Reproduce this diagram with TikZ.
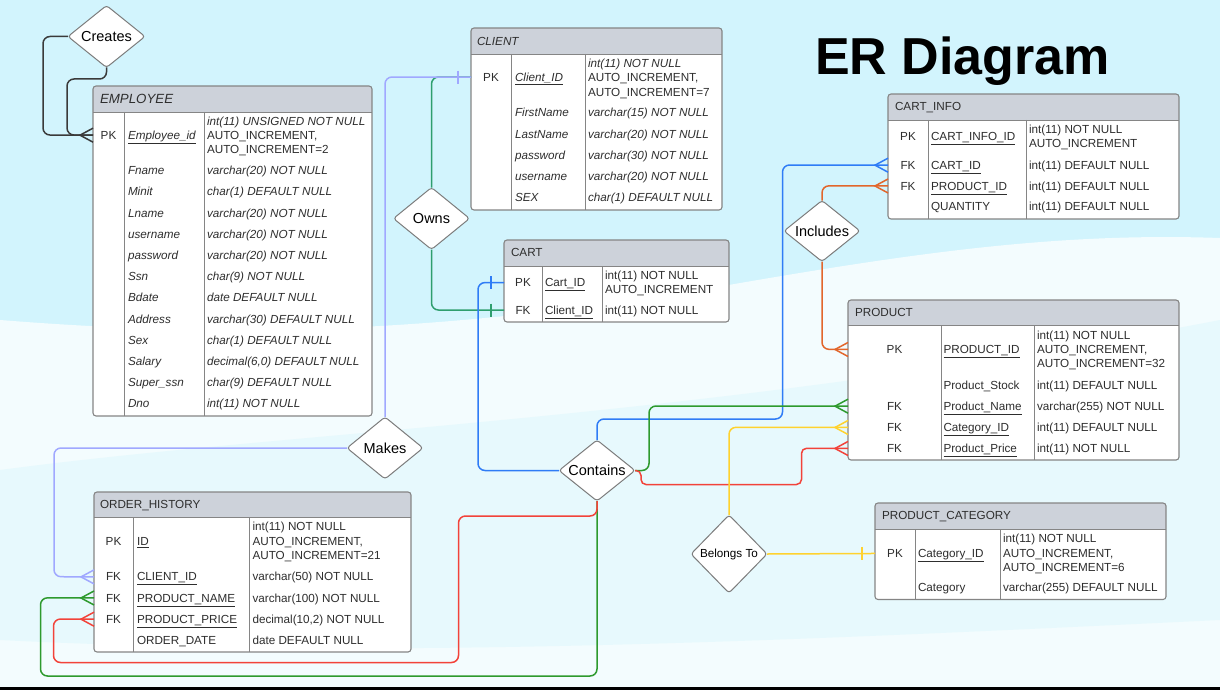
\documentclass[tikz,border=0pt]{standalone}
\usepackage{fontspec}
\setmainfont{Liberation Sans}
\usetikzlibrary{shapes.geometric,fit}
\definecolor{bgcyan}{HTML}{D2F4FD}
\definecolor{hdrfill}{HTML}{CDD2DA}
\definecolor{bordercol}{HTML}{858585}
\definecolor{relborder}{HTML}{7C7C7C}
\definecolor{txtcol}{HTML}{2E2E2E}
\definecolor{crcol}{HTML}{3A3A3A}
\definecolor{owcol}{HTML}{2E9E6E}
\definecolor{bluecol}{HTML}{2F7CF6}
\definecolor{greencol}{HTML}{2E9A2E}
\definecolor{redcol}{HTML}{F2433A}
\definecolor{lavcol}{HTML}{A0A8FF}
\definecolor{orcol}{HTML}{E2662C}
\definecolor{yelcol}{HTML}{FFD22E}
\newcommand\fs{\fontsize{11.7}{14}\selectfont}
\newcommand\ertable[8]{%
  \begin{scope}
    \clip[rounded corners=3pt] (#2,#3) rectangle (#4,#6);
    \fill[white] (#2,#3) rectangle (#4,#6);
    \fill[hdrfill] (#2,#3) rectangle (#4,#5);
  \end{scope}
  \draw[tline] (#2,#5) -- (#4,#5) (#7,#5) -- (#7,#6) (#8,#5) -- (#8,#6);
  \node[tframe, fit={(#2,#3) (#4,#6)}] (#1) {};
}
\newcommand\tx[5][]{\node[txt,#1] (#2) at (#3,#4) {#5};}
\newcommand\kx[4]{\node[keytxt] (#1) at (#2,#3) {#4};}
\newcommand\crow[2]{\draw[#2, line width=1.5pt] (#1) ++(0,-7) -- ++(-13,7) -- ++(13,7);}
\newcommand\onetick[2]{\draw[#2, line width=1.5pt] (#1) ++(-13,-6.5) -- ++(0,13);}
\begin{document}
\begin{tikzpicture}[x=1pt,y=-1pt,
  txt/.style={anchor=base west, yshift=-4.2pt, inner sep=0pt, outer sep=0pt, text=txtcol, font=\fs},
  it/.style={font=\fs\itshape},
  keytxt/.style={anchor=base, yshift=-4.2pt, inner sep=0pt, outer sep=0pt, text=txtcol, font=\fs},
  tline/.style={draw=bordercol, line width=0.9pt},
  tframe/.style={draw=bordercol, line width=1.1pt, rounded corners=3pt, inner sep=0pt, outer sep=0pt},
  rel/.style={diamond, shape aspect=1.25, draw=relborder, fill=white, line width=1pt, rounded corners=3pt, inner sep=0pt, outer sep=0pt, text=black, font=\fontsize{14.5}{16}\selectfont},
  conn/.style={line width=1.5pt, rounded corners=7pt}
]
\useasboundingbox (0,0) rectangle (1220,690);
% background
\fill[bgcyan] (0,0) rectangle (1220,690);
\fill[white, opacity=0.75] (0,320) .. controls (250,340) and (450,330) .. (700,290) .. controls (900,255) and (1050,232) .. (1220,238) -- (1220,690) -- (0,690) -- cycle;
\fill[bgcyan, opacity=0.35] (0,470) .. controls (300,430) and (700,420) .. (1220,320) -- (1220,620) .. controls (800,640) and (400,660) .. (0,640) -- cycle;
\fill[black] (0,687) rectangle (1220,690);
% title
\node[anchor=base west, inner sep=0pt, font=\fontsize{52}{56}\selectfont\bfseries, text=black] (title) at (815,75) {ER Diagram};

% EMPLOYEE
\ertable{emp}{93}{86}{372}{112}{416}{124}{204}
\tx[font=\fontsize{13.3}{15}\selectfont\itshape]{emp-h}{100}{99}{EMPLOYEE}
\kx{emp-pk}{108.5}{135}{PK}
\tx[it]{emp-pkn}{128}{135}{\underline{Employee\_id}}
\tx[it]{emp-t0a}{207}{121}{int(11) UNSIGNED NOT NULL}
\tx{emp-t0b}{207}{135}{AUTO\_INCREMENT,}
\tx{emp-t0c}{207}{149}{AUTO\_INCREMENT=2}
\tx[it]{emp-n1}{128}{170.5}{Fname}      \tx[it]{emp-t1}{207}{170.5}{varchar(20) NOT NULL}
\tx[it]{emp-n2}{128}{191.7}{Minit}      \tx[it]{emp-t2}{207}{191.7}{char(1) DEFAULT NULL}
\tx[it]{emp-n3}{128}{212.9}{Lname}      \tx[it]{emp-t3}{207}{212.9}{varchar(20) NOT NULL}
\tx[it]{emp-n4}{128}{234}{username}     \tx[it]{emp-t4}{207}{234}{varchar(20) NOT NULL}
\tx[it]{emp-n5}{128}{255.2}{password}   \tx[it]{emp-t5}{207}{255.2}{varchar(20) NOT NULL}
\tx[it]{emp-n6}{128}{276.4}{Ssn}        \tx[it]{emp-t6}{207}{276.4}{char(9) NOT NULL}
\tx[it]{emp-n7}{128}{297.6}{Bdate}      \tx[it]{emp-t7}{207}{297.6}{date DEFAULT NULL}
\tx[it]{emp-n8}{128}{318.8}{Address}    \tx[it]{emp-t8}{207}{318.8}{varchar(30) DEFAULT NULL}
\tx[it]{emp-n9}{128}{340}{Sex}          \tx[it]{emp-t9}{207}{340}{char(1) DEFAULT NULL}
\tx[it]{emp-n10}{128}{361.2}{Salary}    \tx[it]{emp-t10}{207}{361.2}{decimal(6,0) DEFAULT NULL}
\tx[it]{emp-n11}{128}{382.4}{Super\_ssn}\tx[it]{emp-t11}{207}{382.4}{char(9) DEFAULT NULL}
\tx[it]{emp-n12}{128}{403.6}{Dno}       \tx[it]{emp-t12}{207}{403.6}{int(11) NOT NULL}

% CLIENT
\ertable{cli}{471}{28}{722}{54}{210}{511}{585}
\tx[it]{cli-h}{477}{41}{CLIENT}
\kx{cli-pk}{491}{77}{PK}
\tx[it]{cli-pkn}{515}{77}{\underline{Client\_ID}}
\tx[it]{cli-t0a}{588}{63}{int(11) NOT NULL}
\tx{cli-t0b}{588}{77.5}{AUTO\_INCREMENT,}
\tx{cli-t0c}{588}{92}{AUTO\_INCREMENT=7}
\tx[it]{cli-n1}{515}{112.7}{FirstName} \tx[it]{cli-t1}{588}{112.7}{varchar(15) NOT NULL}
\tx[it]{cli-n2}{515}{134}{LastName}    \tx[it]{cli-t2}{588}{134}{varchar(20) NOT NULL}
\tx[it]{cli-n3}{515}{155.3}{password}  \tx[it]{cli-t3}{588}{155.3}{varchar(30) NOT NULL}
\tx[it]{cli-n4}{515}{176.6}{username}  \tx[it]{cli-t4}{588}{176.6}{varchar(20) NOT NULL}
\tx[it]{cli-n5}{515}{197.5}{SEX}       \tx[it]{cli-t5}{588}{197.5}{char(1) DEFAULT NULL}

% CART
\ertable{cart}{504}{240}{729}{266}{322}{542}{602}
\tx{cart-h}{511}{252.5}{CART}
\kx{cart-pk}{523}{282.5}{PK}
\tx{cart-pkn}{545}{282.5}{\underline{Cart\_ID}}
\tx{cart-t0a}{605}{275}{int(11) NOT NULL}
\tx{cart-t0b}{605}{289}{AUTO\_INCREMENT}
\kx{cart-fk}{523}{310}{FK}
\tx{cart-n1}{545}{310}{\underline{Client\_ID}}
\tx{cart-t1}{605}{310}{int(11) NOT NULL}

% CART_INFO
\ertable{ci}{888}{94}{1179}{120}{219}{928}{1026}
\tx{ci-h}{895}{106.5}{CART\_INFO}
\kx{ci-pk}{908}{136.7}{PK}
\tx{ci-pkn}{931}{136.7}{\underline{CART\_INFO\_ID}}
\tx{ci-t0a}{1029}{129.3}{int(11) NOT NULL}
\tx{ci-t0b}{1029}{143.7}{AUTO\_INCREMENT}
\kx{ci-fk1}{908}{165}{FK}
\tx{ci-n1}{931}{165}{\underline{CART\_ID}}     \tx{ci-t1}{1029}{165}{int(11) DEFAULT NULL}
\kx{ci-fk2}{908}{185.8}{FK}
\tx{ci-n2}{931}{185.8}{\underline{PRODUCT\_ID}}  \tx{ci-t2}{1029}{185.8}{int(11) DEFAULT NULL}
\tx{ci-n3}{931}{206.7}{QUANTITY}                \tx{ci-t3}{1029}{206.7}{int(11) DEFAULT NULL}

% PRODUCT
\ertable{prod}{848}{300}{1179}{325}{460}{941}{1034}
\tx{prod-h}{855}{312}{PRODUCT}
\kx{prod-pk}{894.5}{349.3}{PK}
\tx{prod-pkn}{943.5}{349.3}{\underline{PRODUCT\_ID}}
\tx{prod-t0a}{1037}{335}{int(11) NOT NULL}
\tx{prod-t0b}{1037}{349.3}{AUTO\_INCREMENT,}
\tx{prod-t0c}{1037}{363.5}{AUTO\_INCREMENT=32}
\tx{prod-n1}{943.5}{385}{Product\_Stock}  \tx{prod-t1}{1037}{385}{int(11) DEFAULT NULL}
\kx{prod-fk1}{894.5}{406}{FK}
\tx{prod-n2}{943.5}{406}{\underline{Product\_Name}}  \tx{prod-t2}{1037}{406}{varchar(255) NOT NULL}
\kx{prod-fk2}{894.5}{427.3}{FK}
\tx{prod-n3}{943.5}{427.3}{\underline{Category\_ID}}  \tx{prod-t3}{1037}{427.3}{int(11) DEFAULT NULL}
\kx{prod-fk3}{894.5}{448.3}{FK}
\tx{prod-n4}{943.5}{448.3}{\underline{Product\_Price}} \tx{prod-t4}{1037}{448.3}{int(11) NOT NULL}

% PRODUCT_CATEGORY
\ertable{pc}{875}{503}{1166}{529}{599.5}{915}{1000}
\tx{pc-h}{882}{515.5}{PRODUCT\_CATEGORY}
\kx{pc-pk}{895}{553.3}{PK}
\tx{pc-pkn}{918}{553.3}{\underline{Category\_ID}}
\tx{pc-t0a}{1003}{538.3}{int(11) NOT NULL}
\tx{pc-t0b}{1003}{553.3}{AUTO\_INCREMENT,}
\tx{pc-t0c}{1003}{567.7}{AUTO\_INCREMENT=6}
\tx{pc-n1}{918}{587.7}{Category} \tx{pc-t1}{1003}{587.7}{varchar(255) DEFAULT NULL}

% ORDER_HISTORY
\ertable{oh}{94}{492}{411}{517}{652}{133}{249}
\tx{oh-h}{100}{504}{ORDER\_HISTORY}
\kx{oh-pk}{113.5}{541.7}{PK}
\tx{oh-pkn}{137}{541.7}{\underline{ID}}
\tx{oh-t0a}{252.5}{526.7}{int(11) NOT NULL}
\tx{oh-t0b}{252.5}{541.7}{AUTO\_INCREMENT,}
\tx{oh-t0c}{252.5}{555.7}{AUTO\_INCREMENT=21}
\kx{oh-fk1}{113.5}{576.7}{FK}
\tx{oh-n1}{137}{576.7}{\underline{CLIENT\_ID}}     \tx{oh-t1}{252.5}{576.7}{varchar(50) NOT NULL}
\kx{oh-fk2}{113.5}{597.8}{FK}
\tx{oh-n2}{137}{597.8}{\underline{PRODUCT\_NAME}}  \tx{oh-t2}{252.5}{597.8}{varchar(100) NOT NULL}
\kx{oh-fk3}{113.5}{619}{FK}
\tx{oh-n3}{137}{619}{\underline{PRODUCT\_PRICE}}   \tx{oh-t3}{252.5}{619}{decimal(10,2) NOT NULL}
\tx{oh-n4}{137}{640}{ORDER\_DATE}                  \tx{oh-t4}{252.5}{640}{date DEFAULT NULL}

% relationships
\node[rel, minimum width=77pt, minimum height=62pt] (cr) at (106.5,36.5) {Creates};
\node[rel, minimum width=76pt, minimum height=62pt] (ow) at (431.5,218.5) {Owns};
\node[rel, minimum width=76pt, minimum height=61pt] (inc) at (822,231) {Includes};
\node[rel, minimum width=76pt, minimum height=62pt] (mk) at (385,448) {Makes};
\node[rel, minimum width=76pt, minimum height=61pt] (ct) at (597,470.5) {Contains};
\node[rel, minimum width=76pt, minimum height=78pt, font=\fontsize{11.7}{13}\selectfont] (bt) at (729,554) {Belongs To};

% connectors
% Creates
\draw[conn, crcol] (cr.west) -- (43,36.5) -- (43,135) -- (emp.west |- emp-pk);
\draw[conn, crcol] (cr.south) -- (106.5,79) -- (67,79) -- (67,135) -- (emp.west |- emp-pk);
\crow{emp.west |- emp-pk}{crcol}
% Owns
\draw[conn, owcol] (ow.north) -- (431.5,77) -- (cli.west |- cli-pk);
\draw[conn, owcol] (ow.south) -- (431.5,310) -- (cart.west |- cart-fk);
\onetick{cart.west |- cart-fk}{owcol}
% Makes
\draw[conn, lavcol] (mk.north) -- (385,77) -- (cli.west |- cli-pk);
\onetick{cli.west |- cli-pk}{lavcol}
\draw[conn, lavcol] (mk.west) -- (54,448) -- (54,576.7) -- (oh.west |- oh-fk1);
\crow{oh.west |- oh-fk1}{lavcol}
% Contains
\draw[conn, bluecol] (ct.west) -- (478,470.5) -- (478,282.5) -- (cart.west |- cart-pk);
\onetick{cart.west |- cart-pk}{bluecol}
\draw[conn, bluecol] (ct.north) -- (597,419) -- (782.5,419) -- (782.5,165) -- (ci.west |- ci-fk1);
\crow{ci.west |- ci-fk1}{bluecol}
\draw[conn, greencol] (ct.east) -- (649,470.5) -- (649,406) -- (prod.west |- prod-fk1);
\crow{prod.west |- prod-fk1}{greencol}
\draw[conn, redcol, rounded corners=5pt] (ct.east) -- (641,470.5) -- (641,484.5) -- (801.5,484.5) -- (801.5,448.3) -- (prod.west |- prod-fk3);
\crow{prod.west |- prod-fk3}{redcol}
\draw[conn, greencol] (ct.south) -- (597,676) -- (40.5,676) -- (40.5,597.8) -- (oh.west |- oh-fk2);
\crow{oh.west |- oh-fk2}{greencol}
\draw[conn, redcol] (ct.south) -- (597,516) -- (458.5,516) -- (458.5,662.5) -- (53.5,662.5) -- (53.5,619) -- (oh.west |- oh-fk3);
\crow{oh.west |- oh-fk3}{redcol}
% Includes
\draw[conn, orcol] (inc.north) -- (822,185.8) -- (ci.west |- ci-fk2);
\crow{ci.west |- ci-fk2}{orcol}
\draw[conn, orcol] (inc.south) -- (822,349.3) -- (prod.west |- prod-pk);
\crow{prod.west |- prod-pk}{orcol}
% Belongs To
\draw[conn, yelcol] (bt.north) -- (729,427.3) -- (prod.west |- prod-fk2);
\crow{prod.west |- prod-fk2}{yelcol}
\draw[conn, yelcol] (bt.east) -- (pc.west |- pc-pk);
\onetick{pc.west |- pc-pk}{yelcol}
\end{tikzpicture}
\end{document}
